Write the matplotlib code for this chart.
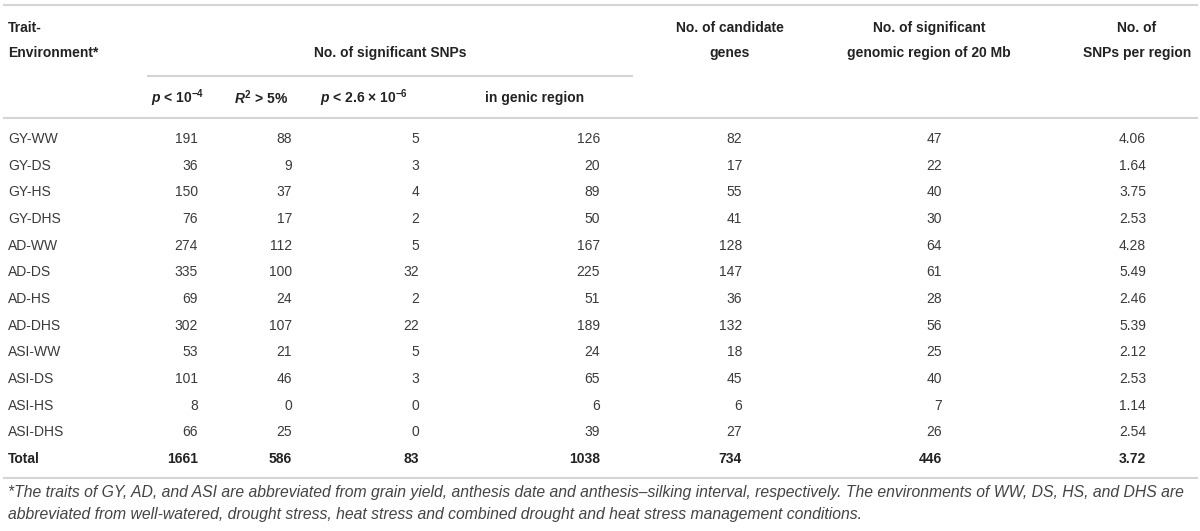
import matplotlib
matplotlib.use("Agg")
import matplotlib.pyplot as plt

# ---- data ----
traits = ["GY-WW", "GY-DS", "GY-HS", "GY-DHS", "AD-WW", "AD-DS", "AD-HS", "AD-DHS",
          "ASI-WW", "ASI-DS", "ASI-HS", "ASI-DHS"]
p_1e4 = [191, 36, 150, 76, 274, 335, 69, 302, 53, 101, 8, 66]
r2_5 = [88, 9, 37, 17, 112, 100, 24, 107, 21, 46, 0, 25]
p_26e6 = [5, 3, 4, 2, 5, 32, 2, 22, 5, 3, 0, 0]
genic = [126, 20, 89, 50, 167, 225, 51, 189, 24, 65, 6, 39]
cand_genes = [82, 17, 55, 41, 128, 147, 36, 132, 18, 45, 6, 27]
regions = [47, 22, 40, 30, 64, 61, 28, 56, 25, 40, 7, 26]
snps_per_region = ["4.06", "1.64", "3.75", "2.53", "4.28", "5.49", "2.46", "5.39",
                   "2.12", "2.53", "1.14", "2.54"]
total_row = ["Total", "1661", "586", "83", "1038", "734", "446", "3.72"]

footnote1 = ("*The traits of GY, AD, and ASI are abbreviated from grain yield, anthesis date and "
             "anthesis\u2013silking interval, respectively. The environments of WW, DS, HS, and DHS are")
footnote2 = ("abbreviated from well-watered, drought stress, heat stress and combined drought and "
             "heat stress management conditions.")

plt.rcParams["font.family"] = ["Liberation Sans", "DejaVu Sans"]
plt.rcParams["mathtext.fontset"] = "custom"
plt.rcParams["mathtext.rm"] = "Liberation Sans:bold"
plt.rcParams["mathtext.it"] = "Liberation Sans:bold:italic"
plt.rcParams["mathtext.bf"] = "Liberation Sans:bold"

fig = plt.figure(figsize=(12, 5.31), dpi=100)
ax = fig.add_axes([0, 0, 1, 1])
ax.set_xlim(0, 1200)
ax.set_ylim(531, 0)
ax.axis("off")

hdr_col = "#222222"
dat_col = "#3a3a3a"
line_col = "#d4d4d4"
fs = 10
hkw = dict(fontsize=fs, fontweight="bold", color=hdr_col, va="center")

# lines
ax.plot([4, 1197], [5, 5], color=line_col, lw=1.5)
ax.plot([148, 632], [76, 76], color=line_col, lw=1.5)
ax.plot([4, 1197], [118, 118], color=line_col, lw=1.5)
ax.plot([4, 1197], [478, 478], color=line_col, lw=1.5)

# headers
ax.text(8, 28, "Trait-", ha="left", **hkw)
ax.text(8, 53, "Environment*", ha="left", **hkw)
ax.text(390, 53, "No. of significant SNPs", ha="center", **hkw)
ax.text(730, 28, "No. of candidate", ha="center", **hkw)
ax.text(730, 53, "genes", ha="center", **hkw)
ax.text(929, 28, "No. of significant", ha="center", **hkw)
ax.text(929, 53, "genomic region of 20 Mb", ha="center", **hkw)
ax.text(1137, 28, "No. of", ha="center", **hkw)
ax.text(1137, 53, "SNPs per region", ha="center", **hkw)

ax.text(178, 98, r"$p$ < 10$^{-4}$", ha="center", **hkw)
ax.text(261, 98, r"$R^{2}$ > 5%", ha="center", **hkw)
ax.text(364, 98, "$p$ < 2.6 \u00d7 10$^{-6}$", ha="center", **hkw)
ax.text(535, 98, "in genic region", ha="center", **hkw)

# data rows
right_edges = [198, 292, 419, 600, 742, 942, 1146]
y0, dy = 139, 26.67
cols = [p_1e4, r2_5, p_26e6, genic, cand_genes, regions, snps_per_region]
for i, t in enumerate(traits):
    y = y0 + i * dy
    ax.text(8, y, t, ha="left", va="center", fontsize=fs, color=dat_col)
    for xr, col in zip(right_edges, cols):
        ax.text(xr, y, str(col[i]), ha="right", va="center", fontsize=fs, color=dat_col)

y = y0 + len(traits) * dy
ax.text(8, y, total_row[0], ha="left", **hkw)
for xr, v in zip(right_edges, total_row[1:]):
    ax.text(xr, y, v, ha="right", **hkw)

# footnote
ax.text(8, 493, footnote1, ha="left", va="center", fontsize=11.3, style="italic", color="#444444")
ax.text(8, 515, footnote2, ha="left", va="center", fontsize=11.3, style="italic", color="#444444")

fig.savefig("out.png", dpi=100, facecolor="white")
